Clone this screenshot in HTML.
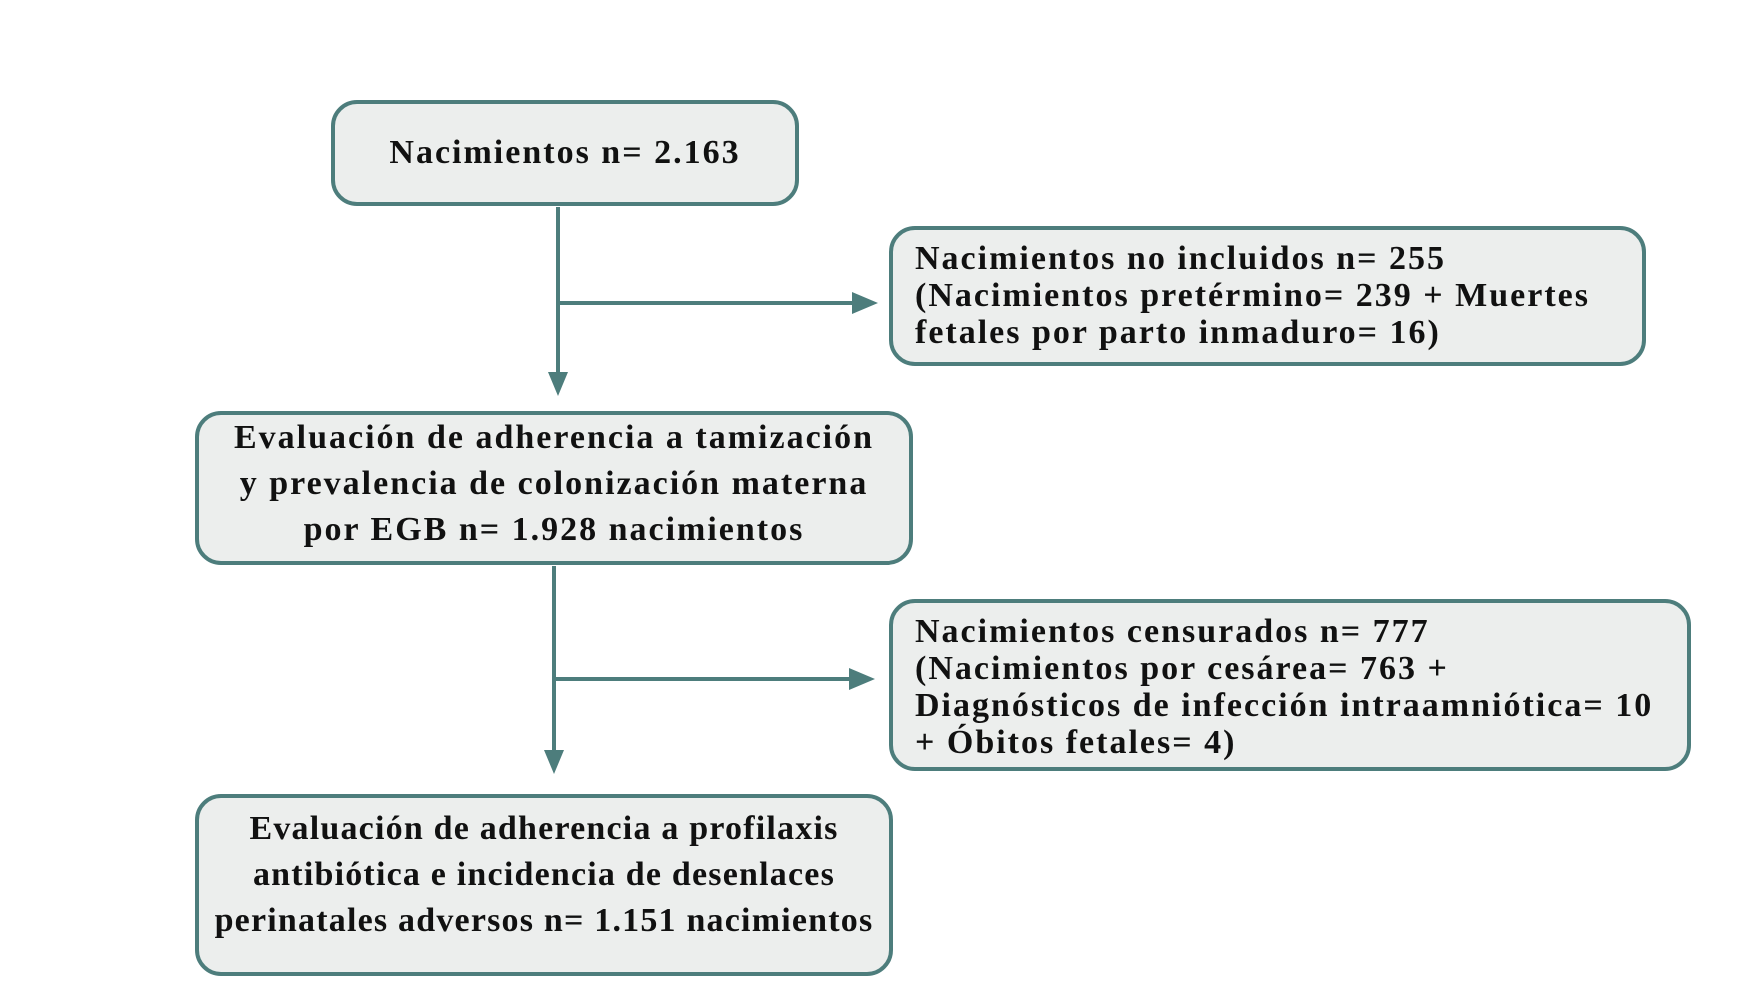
<!DOCTYPE html>
<html><head><meta charset="utf-8"><style>
body{margin:0;width:1744px;height:992px;background:#fff;position:relative;overflow:hidden;font-family:"Liberation Serif",serif;color:#111;}
.b{position:absolute;box-sizing:border-box;border:4px solid #4d7d7c;border-radius:26px;background:#eceeed;font-weight:bold;font-size:34px;letter-spacing:2px;white-space:nowrap;}
.c{display:flex;align-items:center;justify-content:center;text-align:center;line-height:46px;}
.l{line-height:37px;padding:10px 0 0 22px;}
</style></head><body>
<svg width="1744" height="992" style="position:absolute;left:0;top:0">
<g stroke="#4d7d7c" stroke-width="4" fill="#4d7d7c">
<line x1="558" y1="207" x2="558" y2="385"/>
<line x1="558" y1="303" x2="863" y2="303"/>
<line x1="554" y1="566" x2="554" y2="762"/>
<line x1="554" y1="679" x2="860" y2="679"/>
</g>
<g fill="#4d7d7c">
<polygon points="548,372 568,372 558,396"/>
<polygon points="852,292 852,314 878,303"/>
<polygon points="544,750 564,750 554,774"/>
<polygon points="849,668 849,690 875,679"/>
</g>
</svg>
<div class="b c" style="left:331px;top:100px;width:468px;height:106px">Nacimientos n= 2.163</div>
<div class="b l" style="left:889px;top:226px;width:757px;height:140px">Nacimientos no incluidos n= 255<br>(Nacimientos pretérmino= 239 + Muertes<br>fetales por parto inmaduro= 16)</div>
<div class="b c" style="left:195px;top:411px;width:718px;height:154px;padding-bottom:8px">Evaluación de adherencia a tamización<br>y prevalencia de colonización materna<br>por EGB n= 1.928 nacimientos</div>
<div class="b l" style="left:889px;top:599px;width:802px;height:172px">Nacimientos censurados n= 777<br>(Nacimientos por cesárea= 763 +<br>Diagnósticos de infección intraamniótica= 10<br>+ Óbitos fetales= 4)</div>
<div class="b c" style="left:195px;top:794px;width:698px;height:182px;letter-spacing:1.2px;padding-bottom:20px">Evaluación de adherencia a profilaxis<br>antibiótica e incidencia de desenlaces<br>perinatales adversos n= 1.151 nacimientos</div>
</body></html>
